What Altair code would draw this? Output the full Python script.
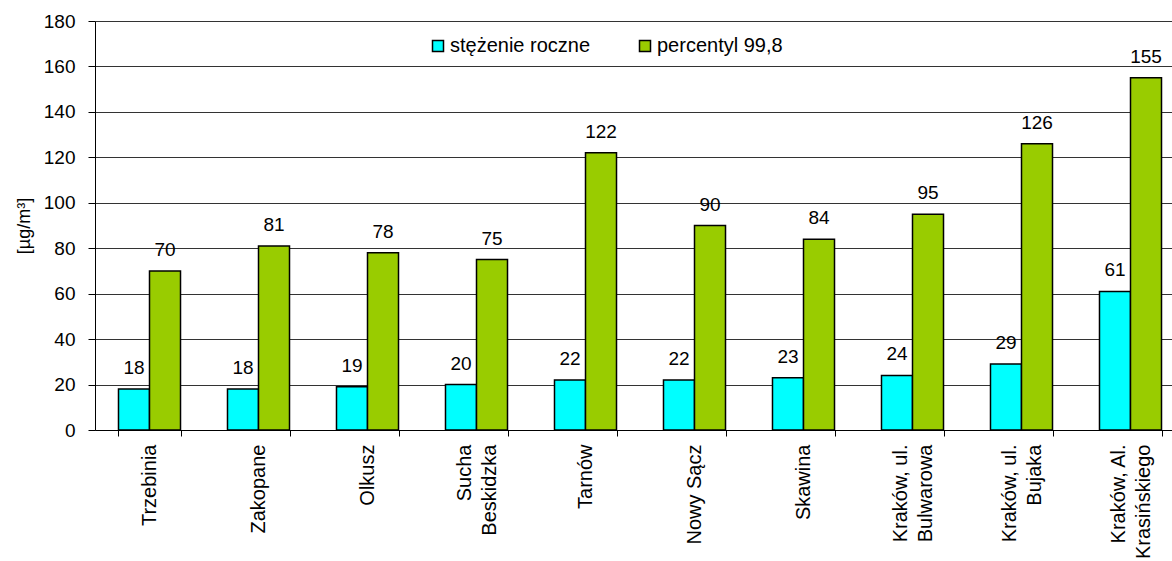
import altair as alt
import pandas as pd

categories = ["Trzebinia", "Zakopane", "Olkusz", "Sucha\nBeskidzka", "Tarnów",
              "Nowy Sącz", "Skawina", "Kraków, ul.\nBulwarowa", "Kraków, ul.\nBujaka",
              "Kraków, Al.\nKrasińskiego"]
series_names = ["stężenie roczne", "percentyl 99,8"]
annual = [18, 18, 19, 20, 22, 22, 23, 24, 29, 61]
p998 = [70, 81, 78, 75, 122, 90, 84, 95, 126, 155]
colors = ["#00FFFF", "#99CC00"]
y_ticks = list(range(0, 181, 20))

rows = []
for c, a, p in zip(categories, annual, p998):
    rows.append({"station": c, "series": series_names[0], "value": a})
    rows.append({"station": c, "series": series_names[1], "value": p})
df = pd.DataFrame(rows)

FONT = "Liberation Sans"
ZW = "\u200b"

label_expr = ("indexof(datum.label, '\\n') >= 0 ? "
              "[split(datum.label, '\\n')[0], '" + ZW + "', split(datum.label, '\\n')[1]] : "
              "['" + ZW + "', datum.label]")

x_enc = alt.X("station:N", sort=categories, title=None,
              scale=alt.Scale(range=[0, 1090], paddingInner=0.431, paddingOuter=0.2155),
              axis=alt.Axis(labelAngle=-90, labelExpr=label_expr,
                            labelFontSize=20, labelLineHeight=12.5, labelOffset=-12.5,
                            labelPadding=8,
                            tickBand="extent", tickSize=6, tickColor="black",
                            domainColor="black", labelColor="black", labelFont=FONT,
                            grid=False))
xoff = alt.XOffset("series:N", sort=series_names,
                   scale=alt.Scale(domain=series_names, paddingInner=0, paddingOuter=0))
y_enc = alt.Y("value:Q", title="[µg/m³]",
              scale=alt.Scale(domain=[0, 180], nice=False),
              axis=alt.Axis(values=y_ticks, tickSize=7, labelPadding=13, labelFontSize=19,
                            titleFontSize=18, titleFontWeight="normal", titlePadding=10,
                            gridColor="#333333", gridWidth=1, tickColor="black",
                            domainColor="black", labelColor="black", titleColor="black",
                            labelFont=FONT, titleFont=FONT))

bars = alt.Chart(df).mark_bar(stroke="black", strokeWidth=1.5).encode(
    x=x_enc, xOffset=xoff, y=y_enc,
    color=alt.Color("series:N", sort=series_names,
                    scale=alt.Scale(domain=series_names, range=colors),
                    legend=alt.Legend(title=None, orient="none", direction="horizontal",
                                      legendX=333, legendY=15, padding=0,
                                      symbolType="square", symbolSize=121,
                                      symbolStrokeColor="black", symbolStrokeWidth=1.5,
                                      labelFontSize=20, labelFont=FONT, labelColor="black",
                                      labelOffset=2, columnPadding=44))
)

labels = alt.Chart(df).mark_text(baseline="alphabetic", dy=-15, fontSize=19,
                                 font=FONT, color="black").encode(
    x=alt.X("station:N", sort=categories), xOffset=xoff, y="value:Q",
    text="value:Q"
)

chart = alt.layer(bars, labels).properties(
    width=1077, height=409,
    padding={"left": 95, "top": 21, "right": 0, "bottom": 131},
    autosize=alt.AutoSizeParams(type="none"),
    background="white"
).configure_view(strokeWidth=0)

chart.save("out.html", embed_options={"renderer": "svg", "actions": False})
